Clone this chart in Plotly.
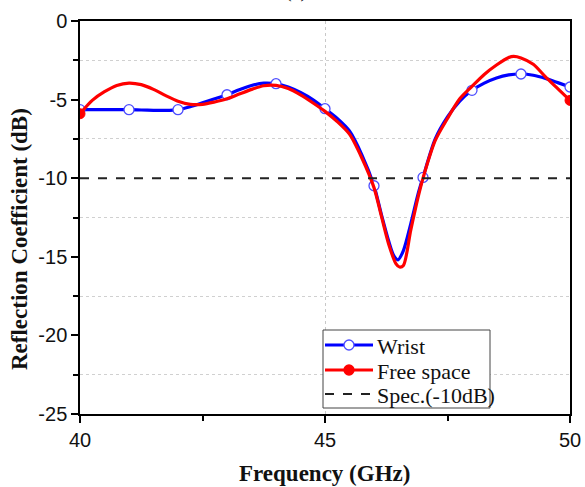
import plotly.graph_objects as go

# Frequency sweep (GHz) and measured reflection coefficient (dB)
freq_wrist = [40.00, 40.25, 40.50, 40.75, 41.00, 41.25, 41.50, 41.75, 42.00, 42.25,
              42.50, 42.75, 43.00, 43.25, 43.50, 43.75, 44.00, 44.25, 44.50, 44.75,
              45.00, 45.25, 45.50, 45.75, 46.00, 46.15, 46.30, 46.40, 46.49, 46.60,
              46.75, 46.90, 47.00, 47.25, 47.50, 47.75, 48.00, 48.25, 48.50, 48.75,
              49.00, 49.25, 49.50, 49.75, 50.00]
s11_wrist = [-5.64, -5.64, -5.64, -5.64, -5.64, -5.66, -5.68, -5.69, -5.64, -5.45,
             -5.20, -4.95, -4.69, -4.38, -4.10, -3.95, -3.99, -4.20, -4.55, -5.00,
             -5.58, -6.20, -7.00, -8.50, -10.48, -12.30, -14.00, -14.90, -15.19, -14.60,
             -12.90, -11.00, -9.95, -7.50, -6.10, -5.10, -4.41, -3.95, -3.62, -3.43,
             -3.37, -3.45, -3.65, -3.92, -4.20]

freq_free = [40.00, 40.25, 40.50, 40.75, 41.00, 41.25, 41.50, 41.75, 42.00, 42.25,
             42.50, 42.75, 43.00, 43.25, 43.50, 43.75, 44.00, 44.25, 44.50, 44.75,
             45.00, 45.25, 45.50, 45.75, 46.00, 46.15, 46.30, 46.45, 46.52, 46.60,
             46.75, 46.90, 47.00, 47.25, 47.50, 47.75, 48.00, 48.25, 48.50, 48.75,
             48.85, 49.00, 49.25, 49.50, 49.75, 50.00]
s11_free = [-5.90, -5.05, -4.50, -4.10, -3.95, -4.05, -4.35, -4.75, -5.10, -5.30,
            -5.30, -5.15, -4.95, -4.65, -4.35, -4.12, -4.10, -4.30, -4.70, -5.20,
            -5.75, -6.40, -7.20, -8.70, -10.60, -12.40, -14.20, -15.45, -15.65, -15.55,
            -13.30, -11.20, -10.00, -7.60, -6.20, -4.95, -4.16, -3.40, -2.80, -2.32,
            -2.25, -2.35, -2.75, -3.55, -4.30, -5.05]

spec_freq = [40, 50]
spec_level = [-10, -10]

y_ticks = [0, -5, -10, -15, -20, -25]
y_ticktext = ["0", "-5", "-10", "-15", "-20", "-25"]
x_ticks = [40, 45, 50]

legend_labels = ["Wrist", "Free space", "Spec.(-10dB)"]

BLUE = "#0000ff"
RED = "#ff0000"
MARKER_EDGE = "#4d4dff"
DASH_COLOR = "#222222"

# canvas / plot-area geometry (pixels)
W, H = 585, 487
ML, MR, MT, MB = 80, 15, 21, 73
PW, PH = W - ML - MR, H - MT - MB


def px(xp):
    return (xp - ML) / PW


def py(yp):
    return (H - MB - yp) / PH


# marker positions: whole-GHz points of the wrist sweep, end points of the free-space sweep
wrist_idx = [i for i, f in enumerate(freq_wrist) if abs(f - round(f)) < 1e-9]
free_idx = [0, len(freq_free) - 1]

fig = go.Figure()

fig.add_trace(go.Scatter(x=freq_wrist, y=s11_wrist, mode="lines",
                         line=dict(color=BLUE, width=3.2, shape="spline", smoothing=0.8),
                         showlegend=False, hoverinfo="skip"))
fig.add_trace(go.Scatter(x=[freq_wrist[i] for i in wrist_idx],
                         y=[s11_wrist[i] for i in wrist_idx], mode="markers",
                         marker=dict(symbol="circle", size=10, color="white",
                                     line=dict(color=MARKER_EDGE, width=1.3)),
                         showlegend=False))
fig.add_trace(go.Scatter(x=freq_free, y=s11_free, mode="lines",
                         line=dict(color=RED, width=3.2, shape="spline", smoothing=0.8),
                         showlegend=False, hoverinfo="skip"))
fig.add_trace(go.Scatter(x=[freq_free[i] for i in free_idx],
                         y=[s11_free[i] for i in free_idx], mode="markers",
                         marker=dict(symbol="circle", size=10, color=RED,
                                     line=dict(color=RED, width=1)),
                         showlegend=False))
fig.add_trace(go.Scatter(x=spec_freq, y=spec_level, mode="lines",
                         line=dict(color=DASH_COLOR, width=2, dash="dash"),
                         showlegend=False))

tick_font = dict(family="Liberation Sans, Arial, sans-serif", size=20, color="#111111")
serif = "Liberation Serif, Times New Roman, serif"
serif_bold = dict(family=serif, size=23, color="#111111")

# legend box drawn in the lower middle of the plot area
box = dict(x0=323, x1=490, y0=330, y1=408)
row_y = [345, 370, 394]
line_x0, line_x1, text_x = 325, 373, 375
mk_r = 5

shapes = [dict(type="rect", xref="paper", yref="paper", layer="above",
               x0=px(box["x0"]), x1=px(box["x1"]), y0=py(box["y1"]), y1=py(box["y0"]),
               line=dict(color="#444444", width=1), fillcolor="white")]
legend_styles = [
    dict(color=BLUE, width=3.2, dash="solid", marker=("white", MARKER_EDGE)),
    dict(color=RED, width=3.2, dash="solid", marker=(RED, RED)),
    dict(color=DASH_COLOR, width=2, dash="dash", marker=None),
]
annotations = []
for yy, lab, st in zip(row_y, legend_labels, legend_styles):
    shapes.append(dict(type="line", xref="paper", yref="paper", layer="above",
                       x0=px(line_x0), x1=px(line_x1), y0=py(yy), y1=py(yy),
                       line=dict(color=st["color"], width=st["width"], dash=st["dash"])))
    if st["marker"] is not None:
        fill, edge = st["marker"]
        cx = (line_x0 + line_x1) / 2
        shapes.append(dict(type="circle", xref="paper", yref="paper", layer="above",
                           x0=px(cx - mk_r), x1=px(cx + mk_r),
                           y0=py(yy + mk_r), y1=py(yy - mk_r),
                           fillcolor=fill, line=dict(color=edge, width=1.3)))
    annotations.append(dict(text=lab, xref="paper", yref="paper", x=px(text_x), y=py(yy + 1),
                            xanchor="left", yanchor="middle", showarrow=False,
                            font=dict(family=serif, size=22, color="#111111")))

annotations += [
    dict(text="<b>Reflection Coefficient (dB)</b>", xref="paper", yref="paper",
         x=px(20), y=py(239), xanchor="center", yanchor="middle",
         textangle=-90, showarrow=False, font=serif_bold),
    dict(text="<b>Frequency (GHz)</b>", xref="paper", yref="paper",
         x=px(324), y=py(473), xanchor="center", yanchor="middle",
         showarrow=False, font=serif_bold),
    dict(text="(a)", xref="paper", yref="paper", x=px(296), y=py(4),
         xanchor="center", yanchor="bottom", showarrow=False,
         font=dict(family=serif, size=20, color="#111111")),
]

fig.update_layout(
    width=W, height=H,
    margin=dict(l=ML, r=MR, t=MT, b=MB, autoexpand=False),
    plot_bgcolor="white", paper_bgcolor="white",
    showlegend=False,
    xaxis=dict(range=[40, 50], tickvals=x_ticks, ticks="outside", ticklen=7,
               tickwidth=1.5, tickcolor="black", tickfont=tick_font,
               automargin=False, ticklabeloverflow="allow",
               showline=True, linecolor="black", linewidth=1.5, mirror=True,
               showgrid=True, gridcolor="#c8c8c8", gridwidth=1, griddash="dot",
               zeroline=False,
               minor=dict(tickvals=[42.5, 47.5], ticks="outside", ticklen=5,
                          tickwidth=1.5, tickcolor="black", showgrid=False)),
    yaxis=dict(range=[-25, 0], tickvals=y_ticks, ticktext=y_ticktext,
               ticks="outside", ticklen=7, tickwidth=1.5, tickcolor="black",
               tickfont=tick_font, automargin=False,
               showline=True, linecolor="black", linewidth=1.5, mirror=True,
               showgrid=False, zeroline=False,
               minor=dict(tickvals=[-2.5, -7.5, -12.5, -17.5, -22.5], ticks="outside",
                          ticklen=5, tickwidth=1.5, tickcolor="black",
                          showgrid=True, gridcolor="#d0d0d0", gridwidth=1, griddash="dot")),
    shapes=shapes,
    annotations=annotations,
)

fig.write_html("out.html")
